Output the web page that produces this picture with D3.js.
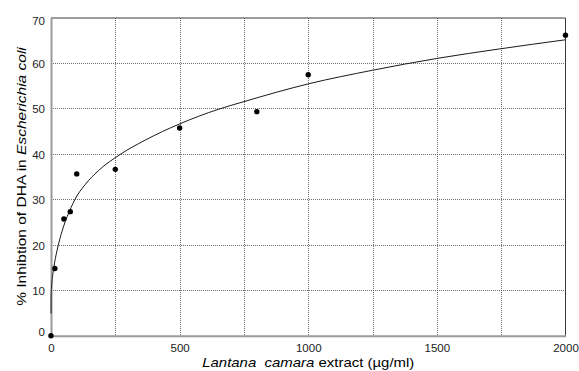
<!DOCTYPE html>
<html>
<head>
<meta charset="utf-8">
<script src="https://cdn.jsdelivr.net/npm/d3@7"></script>
<style>
  html, body { margin: 0; padding: 0; background: #fff; }
  svg { display: block; }
  text { font-family: Arial, "Liberation Sans", sans-serif; }
</style>
</head>
<body>
<svg id="chart" width="579" height="371"></svg>
<script>
// ---- data ----
const concentration = [0, 15, 50, 75, 100, 250, 500, 800, 1000, 2000];
const inhibition    = [0, 14.8, 25.7, 27.3, 35.6, 36.6, 45.7, 49.3, 57.4, 66.1];

// fitted trend curve
const curveX = [0, 0.5, 2, 9, 17, 28.5, 48, 78, 93, 132, 184, 272, 365, 500, 650, 750, 1000, 1250, 1500, 1745, 2000];
const curveY = [4.9, 9, 10.5, 14.3, 17.0, 20, 23.9, 28.2, 30, 33.2, 36.3, 40, 43.0, 46.6, 49.8, 51.5, 55.4, 58.4, 61.0, 63.1, 65.1];

const xTicks = [0, 500, 1000, 1500, 2000];
const xGrid  = [250, 500, 750, 1000, 1250, 1500, 1750];
const yTicks = [0, 10, 20, 30, 40, 50, 60, 70];

// ---- layout ----
const L = 51, R = 565.5, T = 17.5, B = 335.8;
const svg = d3.select("#chart");

const x = d3.scaleLinear().domain([0, 2000]).range([L, R]);
const y = d3.scaleLinear().domain([0, 70]).range([B, T]);

// gridlines
const grid = svg.append("g").attr("stroke", "#6e6e6e").attr("stroke-width", 1)
  .attr("stroke-dasharray", "1,1").attr("shape-rendering", "crispEdges");
grid.selectAll("line.gx").data(xGrid).join("line")
  .attr("x1", d => Math.round(x(d))).attr("x2", d => Math.round(x(d)))
  .attr("y1", T).attr("y2", B);
grid.selectAll("line.gy").data(yTicks.filter(d => d > 0 && d < 70)).join("line")
  .attr("y1", d => Math.round(y(d))).attr("y2", d => Math.round(y(d)))
  .attr("x1", L).attr("x2", R);

// top & right border
svg.append("path")
  .attr("d", `M${L},${T + 0.5}H${R}V${B}`)
  .attr("fill", "none").attr("stroke", "#3a3a3a").attr("stroke-width", 1);

// axes (grey, thicker)
const xAxis = d3.axisBottom(x).tickValues(xTicks).tickFormat(d3.format("d")).tickSize(0).tickPadding(8);
const gx = svg.append("g").attr("transform", `translate(0,${B})`).call(xAxis);
gx.select(".domain").attr("stroke", "#9a9a9a").attr("stroke-width", 2);
gx.selectAll("text").attr("font-size", 11.5).attr("fill", "#222").attr("font-family", "Arial, 'Liberation Sans', sans-serif");

const yAxis = d3.axisLeft(y).tickValues(yTicks).tickSize(0).tickPadding(6);
const gy = svg.append("g").attr("transform", `translate(${L},0)`).call(yAxis);
gy.select(".domain").attr("stroke", "#9a9a9a").attr("stroke-width", 2);
gy.selectAll("text").attr("font-size", 11.5).attr("fill", "#222").attr("font-family", "Arial, 'Liberation Sans', sans-serif")
  .attr("dy", d => d === 0 ? "-0.05em" : d === 70 ? "0.6em" : "0.37em");

// trend curve
const line = d3.line().x(d => x(d[0])).y(d => y(d[1])).curve(d3.curveMonotoneX);
svg.append("path")
  .datum(curveX.map((v, i) => [v, curveY[i]]))
  .attr("d", line)
  .attr("fill", "none").attr("stroke", "#1a1a1a").attr("stroke-width", 1);

// data points
svg.append("g").selectAll("circle")
  .data(concentration.map((v, i) => [v, inhibition[i]]))
  .join("circle")
  .attr("cx", d => x(d[0])).attr("cy", d => y(d[1]))
  .attr("r", 2.7).attr("fill", "#000");

// x title
const xt = svg.append("text")
  .attr("transform", `translate(${(L + R) / 2},367) scale(1.15,1)`)
  .attr("text-anchor", "middle").attr("font-size", 13).attr("fill", "#000");
xt.append("tspan").attr("font-style", "italic").text("Lantana\u00a0\u00a0camara");
xt.append("tspan").text(" extract (\u00b5g/ml)");

// y title
const yt = svg.append("text")
  .attr("transform", `translate(26,176.5) rotate(-90) scale(1.15,1)`)
  .attr("text-anchor", "middle").attr("font-size", 13.5).attr("fill", "#000");
yt.append("tspan").text("% Inhibtion of DHA in ");
yt.append("tspan").attr("font-style", "italic").text("Escherichia coli");
</script>
</body>
</html>
